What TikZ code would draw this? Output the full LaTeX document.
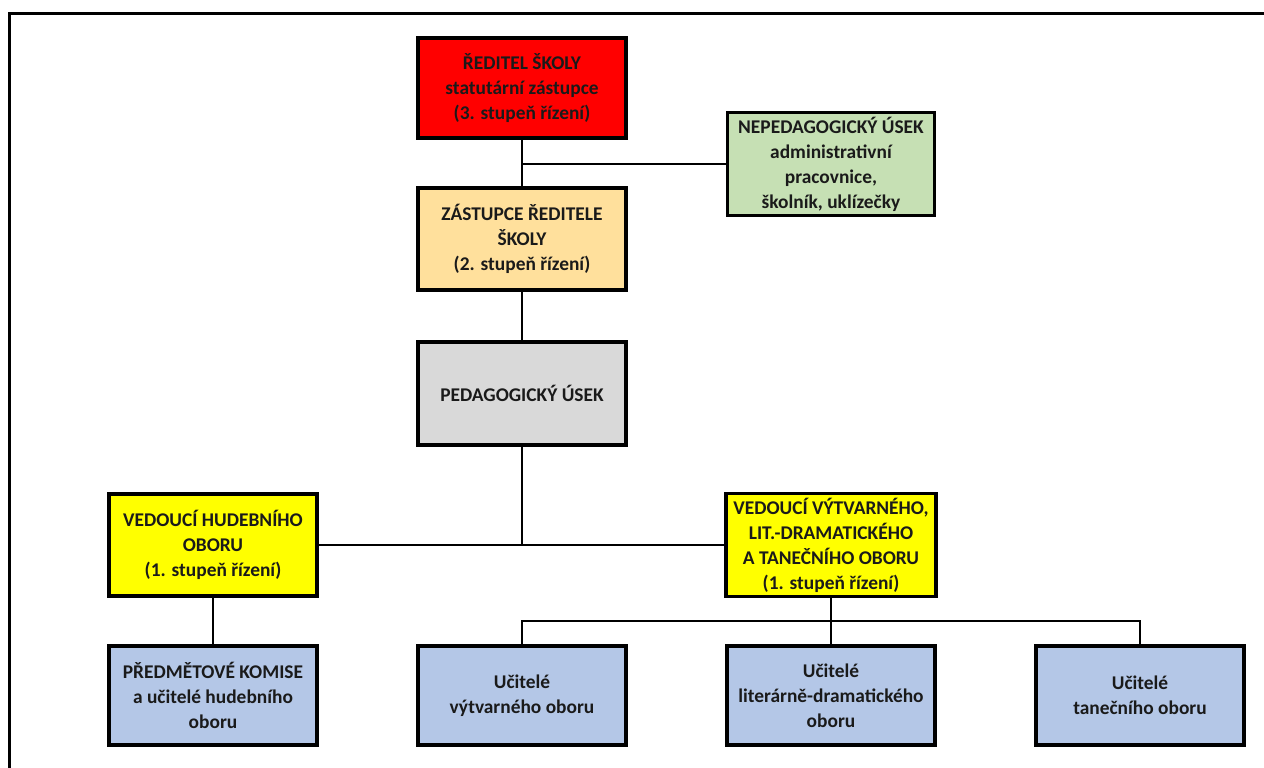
\documentclass[tikz,border=0pt]{standalone}
\usepackage{fontspec}
\setmainfont{Carlito}
\definecolor{cred}{HTML}{FF0000}
\definecolor{corange}{HTML}{FFE09C}
\definecolor{cgreen}{HTML}{C6E0B4}
\definecolor{cgray}{HTML}{D9D9D9}
\definecolor{cyellow}{HTML}{FFFF00}
\definecolor{cblue}{HTML}{B4C7E7}
\definecolor{ctext}{HTML}{1A1A1A}
\tikzset{
  orgbox/.style={draw=black, line width=1.6pt, align=center, text=ctext,
    font=\fontsize{9.7pt}{12.5pt}\selectfont\bfseries,
    minimum width=104pt, inner sep=2pt},
  link/.style={draw=black, line width=1pt}
}
\begin{document}
\begin{tikzpicture}[x=0.5pt,y=-0.5pt]
\clip (0,0) rectangle (1264,767);
\fill[white] (0,0) rectangle (1264,767);
\draw[line width=1.8pt] (9.5,1000) -- (9.5,13.5) -- (1300,13.5);

\node[orgbox, fill=cred, minimum height=50pt] (dir) at (522,88)
  {ŘEDITEL ŠKOLY\\statutární zástupce\\(3. stupeň řízení)};
\node[orgbox, fill=cgreen, minimum height=51pt, minimum width=103.5pt] (nep) at (831,164)
  {NEPEDAGOGICKÝ ÚSEK\\administrativní\\pracovnice,\\školník, uklízečky};
\node[orgbox, fill=corange, minimum height=51pt] (zas) at (522,239)
  {ZÁSTUPCE ŘEDITELE\\ŠKOLY\\(2. stupeň řízení)};
\node[orgbox, fill=cgray, minimum height=51.5pt] (ped) at (522,393.5)
  {PEDAGOGICKÝ ÚSEK};
\node[orgbox, fill=cyellow, minimum height=51pt] (vh) at (213,545)
  {VEDOUCÍ HUDEBNÍHO\\OBORU\\(1. stupeň řízení)};
\node[orgbox, fill=cyellow, minimum height=51pt, minimum width=105pt] (vv) at (831,545)
  {VEDOUCÍ VÝTVARNÉHO,\\LIT.-DRAMATICKÉHO\\A TANEČNÍHO OBORU\\(1. stupeň řízení)};
\node[orgbox, fill=cblue, minimum height=49.5pt] (pk) at (213,695.5)
  {PŘEDMĚTOVÉ KOMISE\\a učitelé hudebního\\oboru};
\node[orgbox, fill=cblue, minimum height=49.5pt] (uv) at (522,695.5)
  {Učitelé\\výtvarného oboru};
\node[orgbox, fill=cblue, minimum height=49.5pt] (ul) at (831,695.5)
  {Učitelé\\literárně-dramatického\\oboru};
\node[orgbox, fill=cblue, minimum height=49.5pt] (ut) at (1140,695.5)
  {Učitelé\\tanečního oboru};

\coordinate (j1) at (dir.south |- nep.west);
\coordinate (bar) at (831,621);

\draw[link] (dir.south) -- (zas.north);
\draw[link] (j1) -- (nep.west);
\draw[link] (zas.south) -- (ped.north);
\draw[link] (ped.south) -- (ped.south |- vv.west);
\draw[link] (vh.east) -- (vv.west);
\draw[link] (vh.south) -- (pk.north);
\draw[link] (vv.south) -- (ul.north);
\draw[link] (uv.north) |- (bar) -| (ut.north);
\end{tikzpicture}
\end{document}
